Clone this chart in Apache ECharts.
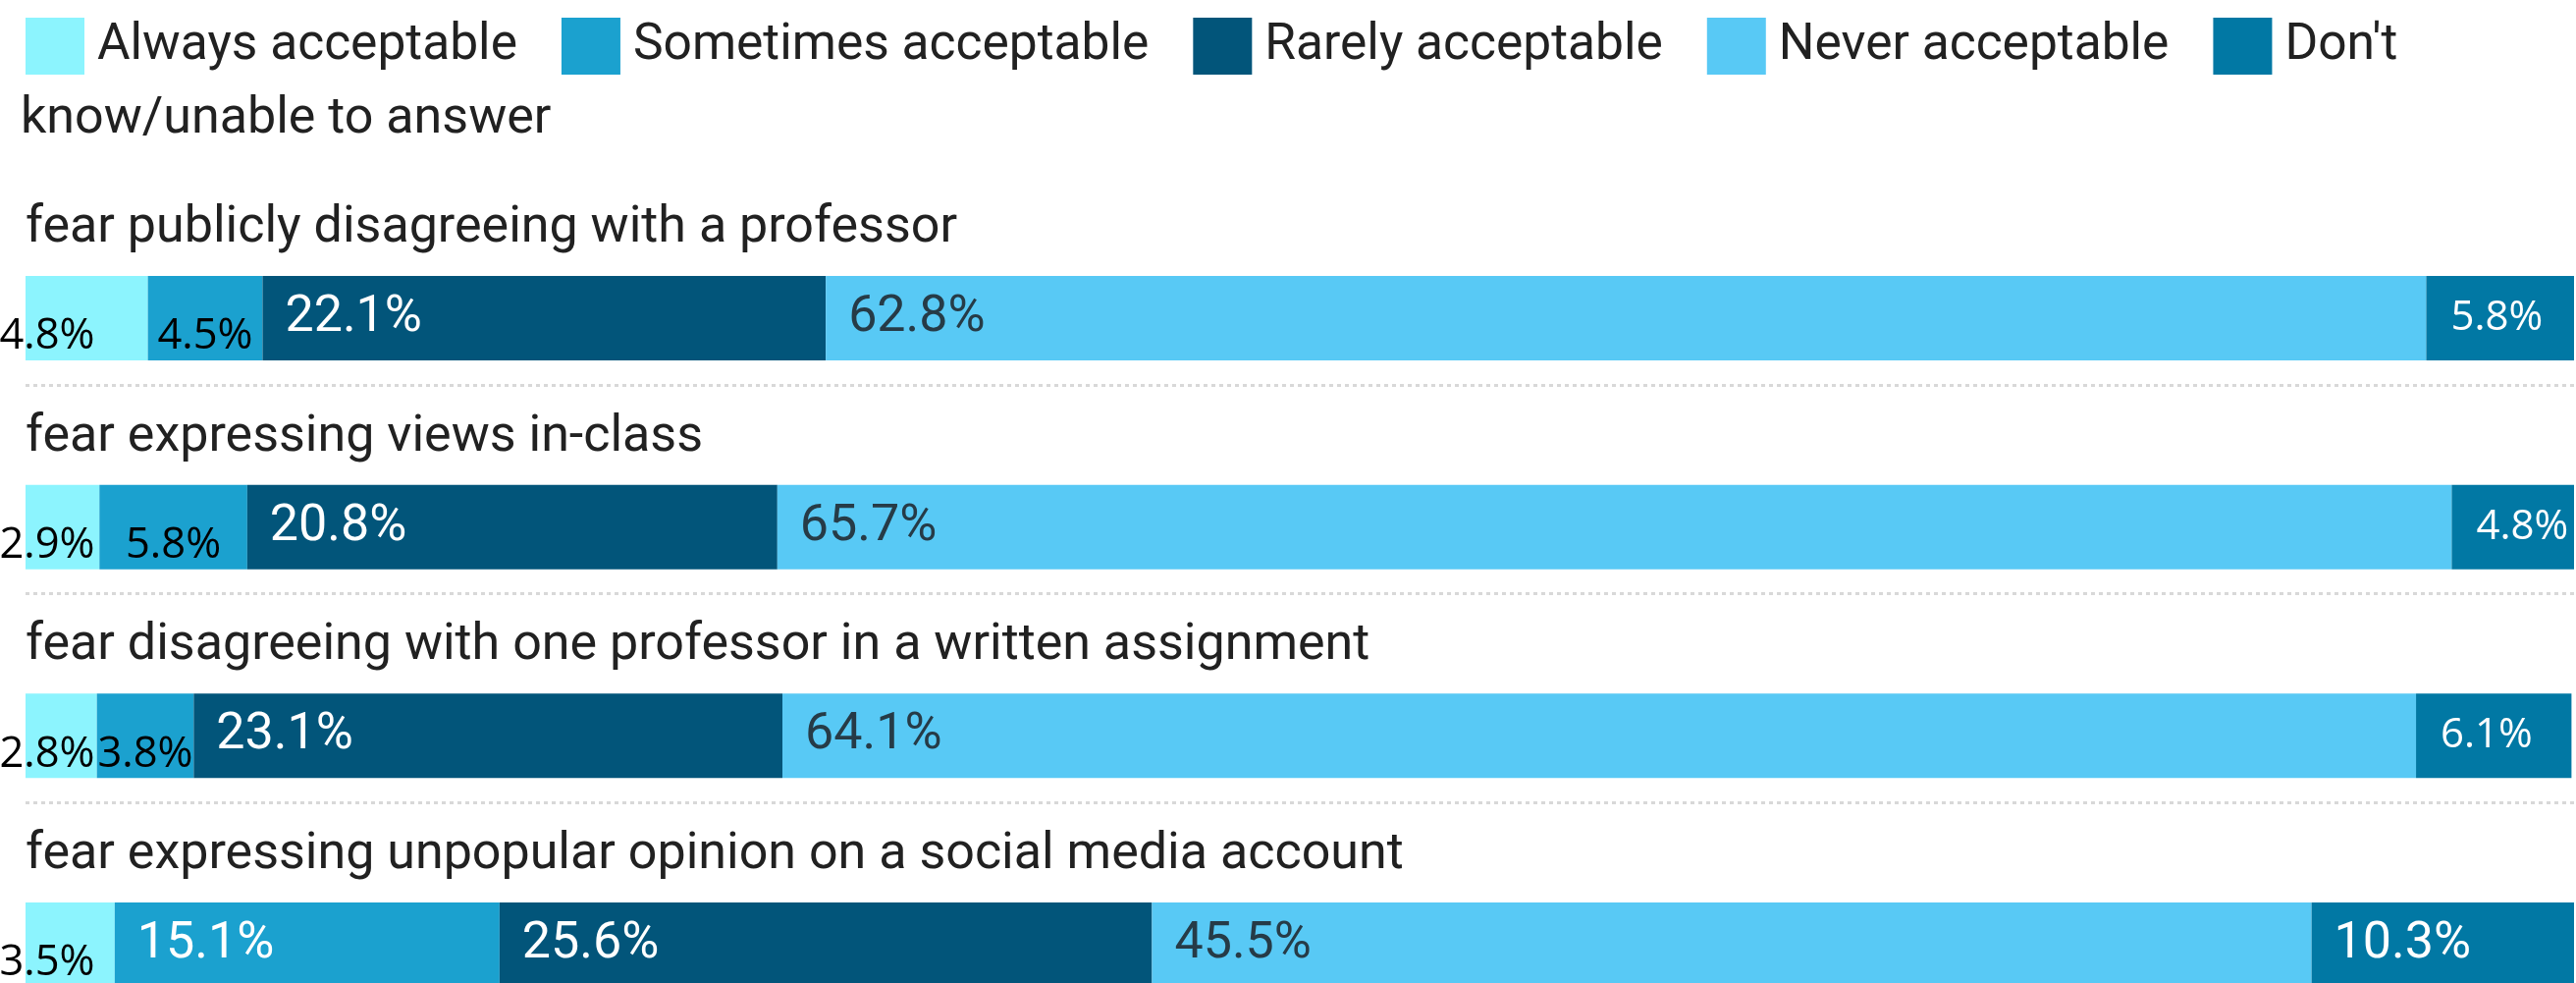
<!DOCTYPE html>
<html>
<head>
<meta charset="utf-8">
<script src="https://cdn.jsdelivr.net/npm/echarts@6/dist/echarts.min.js"></script>
<style>html,body{margin:0;padding:0;background:#fff}#chart{width:2624px;height:1001px}</style>
</head>
<body>
<div id="chart"></div>
<script>
// ---- data ----
const categories = [
  'fear publicly disagreeing with a professor',
  'fear expressing views in-class',
  'fear disagreeing with one professor in a written assignment',
  'fear expressing unpopular opinion on a social media account'
];
const seriesNames = ['Always acceptable', 'Sometimes acceptable', 'Rarely acceptable', 'Never acceptable', "Don't know/unable to answer"];
const always    = [4.8, 2.9, 2.8, 3.5];
const sometimes = [4.5, 5.8, 3.8, 15.1];
const rarely    = [22.1, 20.8, 23.1, 25.6];
const never     = [62.8, 65.7, 64.1, 45.5];
const dontKnow  = [5.8, 4.8, 6.1, 10.3];

// ---- styling ----
const colors = ['#8cf4fe', '#1ba1cf', '#02557a', '#58c9f5', '#0178a4'];
const seriesValues = [always, sometimes, rarely, never, dontKnow];
const fmt = p => p.value.toFixed(1) + '%';

function labelFor(v, si) {
  const dark = si === 3 ? '#263b47' : '#ffffff';
  if (v >= 10) {
    return { show: true, position: 'insideLeft', distance: 23, color: dark,
             fontFamily: 'Roboto', fontSize: 52, formatter: fmt };
  }
  if (si >= 2) {
    return { show: true, position: 'insideLeft', distance: 25, color: dark,
             fontFamily: 'Open Sans', fontSize: 42, formatter: fmt };
  }
  return { show: true, position: si === 0 ? [22, '72%'] : ['50%', '72%'],
           align: 'center', verticalAlign: 'middle', color: '#000000',
           fontFamily: 'Open Sans', fontSize: 43.5, formatter: fmt };
}

const series = seriesValues.map((vals, si) => ({
  name: seriesNames[si],
  type: 'bar',
  stack: 'total',
  barWidth: 86,
  xAxisIndex: 0,
  yAxisIndex: 0,
  itemStyle: { color: colors[si] },
  emphasis: { disabled: true },
  data: vals.map(v => ({ value: v, label: labelFor(v, si) }))
}));

const lastName = seriesNames[seriesNames.length - 1];
const lastWords = lastName.split(' ');

const chart = echarts.init(document.getElementById('chart'), null, { renderer: 'canvas' });
chart.setOption({
  animation: false,
  backgroundColor: '#ffffff',
  color: colors,
  legend: {
    left: 21, top: 13,
    itemWidth: 60, itemHeight: 58, itemGap: 45,
    icon: 'rect',
    selectedMode: false,
    textStyle: { fontFamily: 'Roboto', fontSize: 51.5, color: '#212121', padding: [0, 0, 0, 8] },
    formatter: name => name === lastName ? lastWords[0] : name,
    data: seriesNames
  },
  graphic: [{
    type: 'text', x: 21, y: 122,
    style: { text: lastWords.slice(1).join(' '), font: '52px Roboto', fill: '#212121',
             textAlign: 'left', textVerticalAlign: 'middle', verticalAlign: 'middle' }
  }],
  grid: [
    { left: 26, right: 2, top: 217.7, bottom: -67.3, outerBoundsMode: 'none', containLabel: false },
    { left: 26, right: 2, top: 179.3, bottom: -29, outerBoundsMode: 'none', containLabel: false }
  ],
  xAxis: [
    { type: 'value', gridIndex: 0, min: 0, max: 100, show: false },
    { type: 'value', gridIndex: 1, min: 0, max: 100, show: false }
  ],
  yAxis: [
    {
      type: 'category', gridIndex: 0, data: categories, inverse: true,
      axisLine: { show: false }, axisTick: { show: false }, splitLine: { show: false },
      axisLabel: {
        inside: true, margin: 0, interval: 0,
        fontFamily: 'Roboto', fontSize: 52, color: '#212121',
        lineHeight: 182, verticalAlign: 'middle',
        formatter: v => v + '\n '
      },
      z: 5
    },
    {
      type: 'category', gridIndex: 1, data: categories, inverse: true,
      axisLine: { show: false }, axisTick: { show: false }, axisLabel: { show: false },
      splitLine: { show: true, interval: (i) => i !== 0,
                   lineStyle: { color: '#d8d8d8', width: 3, type: [4, 4] } }
    }
  ],
  series: series
});
</script>
</body>
</html>
